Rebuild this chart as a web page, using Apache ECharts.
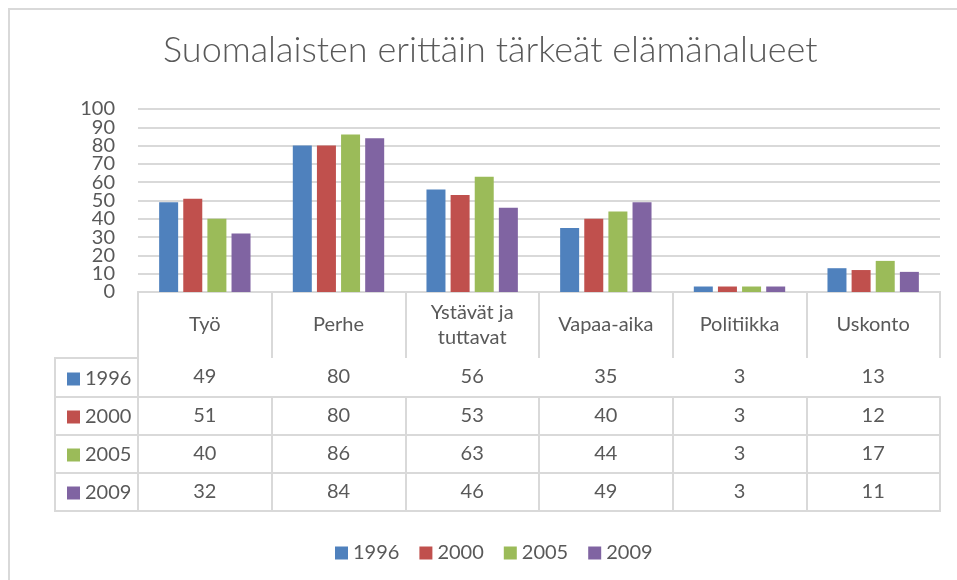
<!DOCTYPE html>
<html>
<head>
<meta charset="utf-8">
<script src="https://cdn.jsdelivr.net/npm/echarts@6/dist/echarts.min.js"></script>
<style>
html,body{margin:0;padding:0;background:#fff;}
#c{width:957px;height:580px;}
</style>
</head>
<body>
<div id="c"></div>
<script>
const titleText = 'Suomalaisten erittäin tärkeät elämänalueet';
const categories = ['Työ', 'Perhe', 'Ystävät ja\ntuttavat', 'Vapaa-aika', 'Politiikka', 'Uskonto'];
const years = ['1996', '2000', '2005', '2009'];
const v1996 = [49, 80, 56, 35, 3, 13];
const v2000 = [51, 80, 53, 40, 3, 12];
const v2005 = [40, 86, 63, 44, 3, 17];
const v2009 = [32, 84, 46, 49, 3, 11];
const yTicks = {min: 0, max: 100, interval: 10};

const seriesValues = [v1996, v2000, v2005, v2009];
const colors = ['#4F81BD', '#C0504D', '#9BBB59', '#8064A2'];
const FONT = 'Lato';
const TXT = '#595959';
const LINE = '#d9d9d9';
const FS = 20;

const chart = echarts.init(document.getElementById('c'));

const rowTops = [66, 105, 143, 181]; // offsets of data rows below plot bottom
const xAxes = [{
  gridIndex: 0, type: 'category', data: categories, position: 'bottom', offset: 0,
  axisLine: {show: true, lineStyle: {color: LINE, width: 2}},
  axisTick: {show: true, alignWithLabel: false, interval: 0, length: 66, lineStyle: {color: LINE, width: 2}},
  axisLabel: {interval: 0, margin: 33, verticalAlign: 'middle', fontFamily: FONT, fontSize: FS, lineHeight: 25, color: TXT}
}];
seriesValues.forEach((vals, k) => {
  xAxes.push({
    gridIndex: 0, type: 'category', data: categories, position: 'bottom', offset: rowTops[k],
    axisLine: {show: true, lineStyle: {color: LINE, width: 2}},
    axisTick: {show: true, alignWithLabel: false, interval: 0, length: 39, lineStyle: {color: LINE, width: 2}},
    axisLabel: {interval: 0, margin: 19, verticalAlign: 'middle', fontFamily: FONT, fontSize: FS, color: TXT,
      formatter: (v, i) => String(vals[i])}
  });
});
xAxes.push({
  gridIndex: 0, type: 'category', data: categories, position: 'bottom', offset: 219,
  axisLine: {show: true, lineStyle: {color: LINE, width: 2}},
  axisTick: {show: false}, axisLabel: {show: false}
});
xAxes.push({gridIndex: 1, type: 'value', show: false, min: 0, max: 1});

const yLabelStyle = {margin: 23, fontFamily: FONT, fontSize: FS, color: TXT};

const option = {
  backgroundColor: '#fff',
  animation: false,
  color: colors,
  title: {
    text: titleText, left: 163, top: 32, padding: 0,
    textStyle: {fontFamily: FONT, fontWeight: 300, fontSize: 36, color: TXT}
  },
  graphic: [{type: 'rect', silent: true, z: -10,
    shape: {x: 9, y: 9, width: 1000, height: 1000},
    style: {fill: 'none', stroke: LINE, lineWidth: 2}}],
  legend: [{
    data: years, left: 330, top: 538, itemWidth: 13, itemHeight: 13, itemGap: 20, icon: 'rect',
    selectedMode: false,
    textStyle: {fontFamily: FONT, fontSize: FS, color: TXT, lineHeight: 20}
  }, {
    data: years, orient: 'vertical', left: 62, top: 364, itemWidth: 13, itemHeight: 13, itemGap: 18, icon: 'rect',
    selectedMode: false,
    textStyle: {fontFamily: FONT, fontSize: FS, color: TXT, lineHeight: 20}
  }],
  grid: [
    {left: 138, top: 109, width: 802, height: 183, containLabel: false},
    {left: 55, top: 358, width: 83, height: 153, show: true, borderColor: LINE, borderWidth: 2, backgroundColor: 'transparent'}
  ],
  xAxis: xAxes,
  yAxis: [{
    // main value axis: gridlines every 10, labels at odd tens (10, 30, ...)
    gridIndex: 0, type: 'value', min: yTicks.min, max: yTicks.max, interval: yTicks.interval,
    axisLine: {show: false}, axisTick: {show: false},
    axisLabel: Object.assign({formatter: v => (v % 20 === 10 ? String(v) : '')}, yLabelStyle),
    splitLine: {lineStyle: {color: LINE, width: 2}}
  }, {
    gridIndex: 1, type: 'category', data: years, inverse: true,
    axisLine: {show: false}, axisTick: {show: false}, axisLabel: {show: false},
    splitLine: {show: true, interval: 0, lineStyle: {color: LINE, width: 2}}
  }, {
    // companion axis with same scale: labels at even tens (0, 20, ..., 100)
    gridIndex: 0, type: 'value', position: 'left', offset: 0,
    min: yTicks.min, max: yTicks.max, interval: yTicks.interval * 2,
    axisLine: {show: false}, axisTick: {show: false},
    axisLabel: Object.assign({showMinLabel: true, showMaxLabel: true}, yLabelStyle),
    splitLine: {show: false}
  }],
  series: years.map((y, k) => ({
    name: y, type: 'bar', xAxisIndex: 0, yAxisIndex: 0,
    data: seriesValues[k], barWidth: 19, barGap: '27%',
    itemStyle: {color: colors[k]}
  }))
};
chart.setOption(option);
</script>
</body>
</html>
